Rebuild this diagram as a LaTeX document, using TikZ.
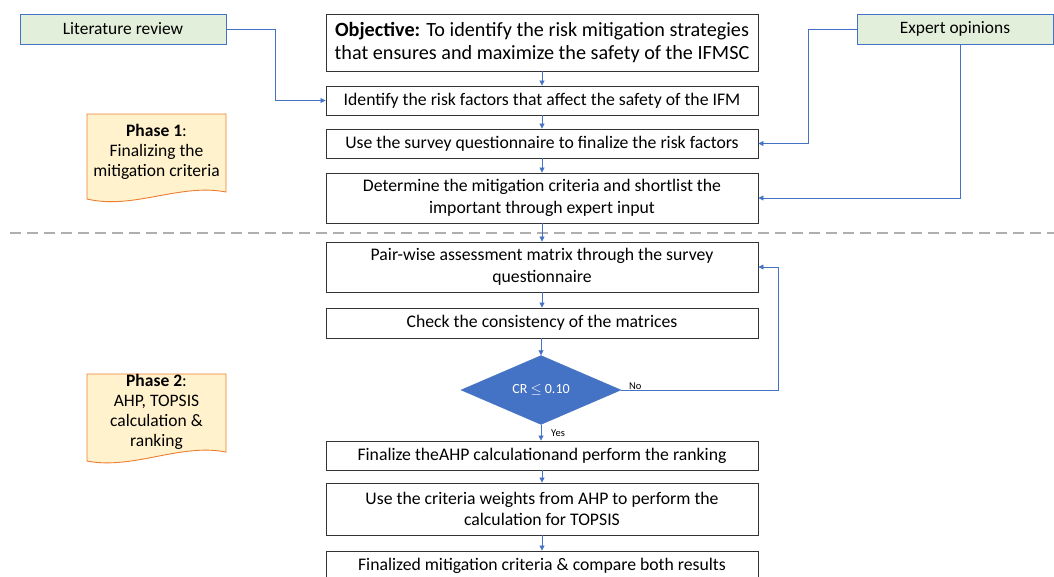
\documentclass[tikz,border=0pt]{standalone}
\usepackage{fontspec}
\setmainfont{Carlito}
\usetikzlibrary{arrows.meta,shapes.geometric}
\definecolor{blu}{RGB}{68,114,196}
\definecolor{grn}{RGB}{226,239,218}
\definecolor{notefill}{RGB}{255,242,204}
\definecolor{noteline}{RGB}{237,125,49}
\definecolor{sepgray}{RGB}{175,175,175}
\tikzset{
  box/.style={draw=black!80, line width=0.9pt, fill=white, minimum width=432pt, inner sep=2pt, align=center, font=\fontsize{17.7}{21.5}\selectfont},
  src/.style={draw=blu, line width=0.9pt, fill=grn, minimum height=30pt, inner sep=2pt, font=\fontsize{17.4}{20}\selectfont},
  conn/.style={draw=blu, line width=0.8pt, -{Triangle[length=5pt,width=5pt]}},
  note/.style={draw=noteline, line width=0.9pt, fill=notefill},
  notetext/.style={align=center, font=\fontsize{17.5}{20}\selectfont},
  lab/.style={font=\fontsize{10.5}{12}\selectfont, inner sep=0pt},
}
\begin{document}
\begin{tikzpicture}[x=1pt,y=-1pt]
\useasboundingbox (0,0) rectangle (1054,576);
\clip (0,0) rectangle (1054,576);
% separator
\draw[sepgray, line width=2.5pt, dash pattern=on 10.5pt off 6.5pt] (10,233) -- (1054,233);
% sources
\node[src, minimum width=206pt] (lit) at (123,29) {Literature review};
\node[src, minimum width=196pt] (exp) at (955,29) {Expert opinions};
% main boxes
\node[box, minimum height=57pt, font=\fontsize{20.2}{23}\selectfont] (obj) at (542,42.5) {\textbf{Objective:} To identify the risk mitigation strategies\\that ensures and maximize the safety of the IFMSC};
\node[box, minimum height=29pt] (idf) at (542,100.5) {Identify the risk factors that affect the safety of the IFM};
\node[box, minimum height=29pt] (use) at (542,143.5) {Use the survey questionnaire to finalize the risk factors};
\node[box, minimum height=50pt] (det) at (542,198) {Determine the mitigation criteria and shortlist the\\important through expert input};
\node[box, minimum height=50pt] (pair) at (542,267) {Pair-wise assessment matrix through the survey\\questionnaire};
\node[box, minimum height=30pt] (chk) at (542,323) {Check the consistency of the matrices};
\node[diamond, fill=blu, draw=blu, inner sep=0pt, aspect=2.3, minimum width=160pt, minimum height=69pt, text=white, font=\fontsize{14}{16}\selectfont] (cr) at (541,390) {CR $\leq$ 0.10};
\node[box, minimum height=29pt] (fin) at (542,455.5) {Finalize theAHP calculationand perform the ranking};
\node[box, minimum height=52pt] (wts) at (542,509) {Use the criteria weights from AHP to perform the\\calculation for TOPSIS};
\node[box, minimum height=30pt] (last) at (542,566) {Finalized mitigation criteria \& compare both results};
% phase notes
\draw[note] (87,114) -- (226,114) -- (226,192) .. controls (180,183) and (133,210) .. (87,199) -- cycle;
\node[notetext] (ph1) at (156.5,152) {\textbf{Phase 1}:\\Finalizing the\\mitigation criteria};
\draw[note] (87,374) -- (226,374) -- (226,452) .. controls (180,443) and (133,470) .. (87,461) -- cycle;
\node[notetext] (ph2) at (156.5,411.5) {\textbf{Phase 2}:\\AHP, TOPSIS\\calculation \&\\ranking};
% flow
\draw[conn] (obj) -- (idf);
\draw[conn] (idf) -- (use);
\draw[conn] (use) -- (det);
\draw[conn] (det) -- (pair);
\draw[conn] (pair) -- (chk);
\draw[conn] (chk.south -| cr.north) -- (cr.north);
\draw[conn] (cr.south) -- (cr.south |- fin.north);
\draw[conn] (fin) -- (wts);
\draw[conn] (wts) -- (last);
% side connectors
\coordinate (l1) at (275,100.5);
\draw[conn] (lit.east) -| (l1) -- (idf.west);
\coordinate (e1) at (808,143.5);
\draw[conn] (exp.west) -| (e1) -- (use.east);
\coordinate (e2) at (960,198);
\draw[conn] (exp.south -| e2) -- (e2) -- (det.east);
\coordinate (n1) at (778,267);
\draw[conn] (cr.east) -| (n1) -- (pair.east);
\node[lab, anchor=west] (no) at (629,386) {No};
\node[lab, anchor=west] (yes) at (551,433) {Yes};
\end{tikzpicture}
\end{document}
